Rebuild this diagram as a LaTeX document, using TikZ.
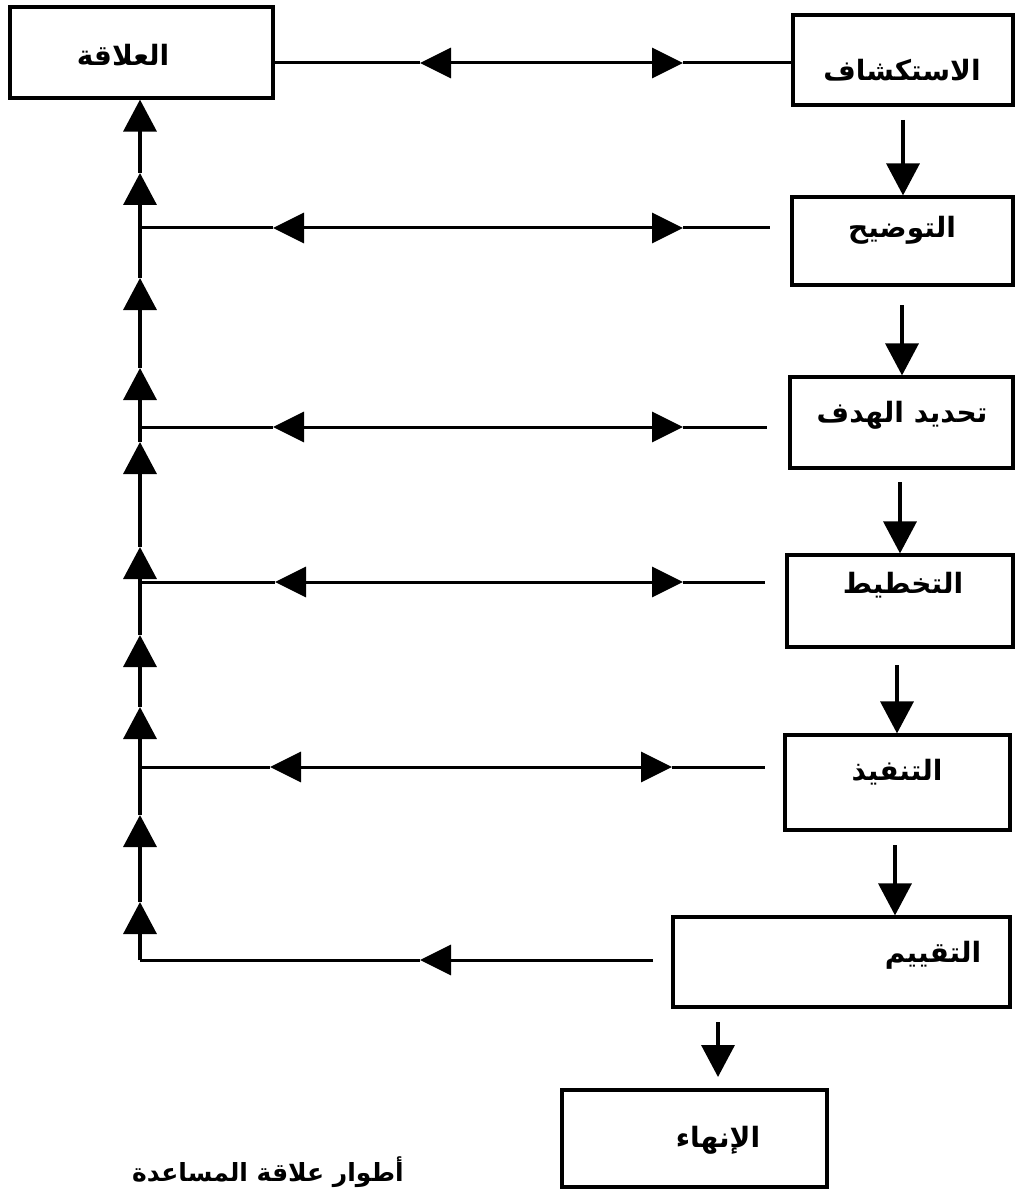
\documentclass[tikz,border=0pt]{standalone}
\usepackage{fontspec}
\usetikzlibrary{arrows.meta}
\TeXXeTstate=1
\newfontfamily\arfont[Script=Arabic]{DejaVu Sans}
\begin{document}
\begin{tikzpicture}[x=1pt,y=-1pt,
  box/.style={draw, line width=3.2pt, inner sep=0pt},
  lbl/.style={font=\arfont\bfseries\fontsize{28}{32}\selectfont, inner sep=0pt},
  conn/.style={line width=3pt},
  tip/.style={line width=3pt, -{Triangle[length=31pt,width=30pt]}},
  vtip/.style={line width=3.5pt, -{Triangle[length=32pt,width=33pt]}}]
\useasboundingbox (0,0) rectangle (1015,1190);
% boxes
\node[box, minimum width=263pt, minimum height=91pt] (rel)  at (141.5,52.5) {};
\node[box, minimum width=220pt, minimum height=90pt] (expl) at (903,60) {};
\node[box, minimum width=221pt, minimum height=88pt] (clar) at (902.5,241) {};
\node[box, minimum width=223pt, minimum height=91pt] (goal) at (901.5,422.5) {};
\node[box, minimum width=226pt, minimum height=92pt] (plan) at (900,601) {};
\node[box, minimum width=225pt, minimum height=95pt] (impl) at (897.5,782.5) {};
\node[box, minimum width=337pt, minimum height=90pt] (eval) at (841.5,962) {};
\node[box, minimum width=265pt, minimum height=97pt] (term) at (694.5,1138.5) {};
% labels
\node[lbl] (lrel)  at (123,55)  {\beginR العلاقة\endR};
\node[lbl] (lexpl) at (902,70)  {\beginR الاستكشاف\endR};
\node[lbl] (lclar) at (902,230) {\beginR التوضيح\endR};
\node[lbl] (lgoal) at (902,415) {\beginR تحديد الهدف\endR};
\node[lbl] (lplan) at (903,585) {\beginR التخطيط\endR};
\node[lbl] (limpl) at (897,772) {\beginR التنفيذ\endR};
\node[lbl] (leval) at (933,955) {\beginR التقييم\endR};
\node[lbl] (lterm) at (718,1140) {\beginR الإنهاء\endR};
\node[font=\arfont\bfseries\fontsize{25}{30}\selectfont, inner sep=0pt] (cap) at (268,1172) {\beginR أطوار علاقة المساعدة\endR};
% down arrows
\coordinate (d1) at (903,120);  \draw[vtip] (d1) -- (d1 |- clar.north);
\coordinate (d2) at (902,305);  \draw[vtip] (d2) -- (d2 |- goal.north);
\coordinate (d3) at (900,482);  \draw[vtip] (d3) -- (d3 |- plan.north);
\coordinate (d4) at (897,665);  \draw[vtip] (d4) -- (d4 |- impl.north);
\coordinate (d5) at (895,845);  \draw[vtip] (d5) -- (d5 |- eval.north);
\coordinate (d6) at (718,1022); \coordinate (d6e) at (718,1077);
\draw[vtip] (d6) -- (d6e);
% top link rel <-> expl
\coordinate (a1l) at (420,63); \coordinate (a1r) at (683,63); \coordinate (a1m) at (550,63);
\draw[conn] (rel.east |- a1l) -- (a1l);
\draw[tip] (a1m) -- (a1l);
\draw[tip] (a1m) -- (a1r);
\draw[conn] (a1r) -- (expl.west |- a1r);
% trunk
\coordinate (k0) at (140,960);
\foreach \a/\b in {960/902,902/815,815/707,707/635,635/547,547/442,442/368,368/278,278/173}
  \draw[vtip] (140,\a) -- (140,\b);
\draw[vtip] (140,173) -- (rel.south -| 140,0);
% branches
\foreach \y/\lt/\rt/\re in {228/273/683/770, 427/273/683/767, 582/275/683/765, 767/270/672/765}{
  \coordinate (bl) at (140,\y); \coordinate (bt) at (\lt,\y);
  \coordinate (bm) at (470,\y); \coordinate (br) at (\rt,\y); \coordinate (be) at (\re,\y);
  \draw[conn] (bl) -- (bt);
  \draw[tip] (bm) -- (bt);
  \draw[tip] (bm) -- (br);
  \draw[conn] (br) -- (be);
}
% evaluation back link
\coordinate (e1) at (653,960); \coordinate (e2) at (420,960);
\draw[tip] (e1) -- (e2);
\draw[conn] (e2) -- (k0);
\end{tikzpicture}
\end{document}
